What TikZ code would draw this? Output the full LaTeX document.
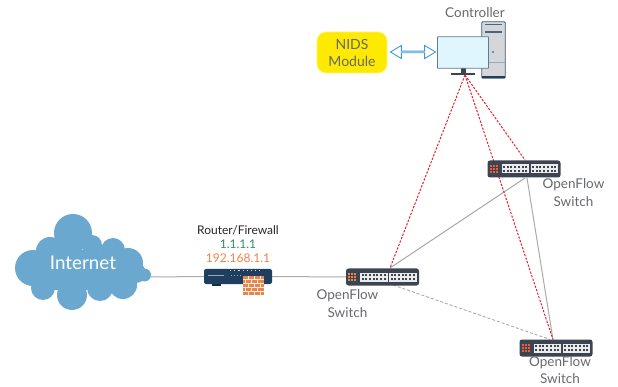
\documentclass[tikz,border=0pt]{standalone}
\usepackage{fontspec}
\setmainfont{Lato}
\usetikzlibrary{shapes.arrows}
\pgfdeclarelayer{back}
\pgfsetlayers{back,main}
\definecolor{cloudblue}{HTML}{6BA8CF}
\definecolor{swdark}{HTML}{3C4452}
\definecolor{navy}{HTML}{1F3F5E}
\definecolor{brick}{HTML}{E8864C}
\definecolor{txtgray}{HTML}{66696D}
\definecolor{linegray}{HTML}{ABABAB}
\definecolor{labgreen}{HTML}{2F8F6B}
\definecolor{arrowblue}{HTML}{3E9BD8}
\definecolor{ctrlred}{HTML}{E2202F}
\tikzset{
  x=1pt,y=-1pt,
  lab/.style={inner sep=0pt,text=txtgray,font=\fontsize{13.5}{13.5}\selectfont,align=center},
  labdark/.style={inner sep=0pt,font=\fontsize{12}{12}\selectfont},
  link/.style={linegray,line width=1pt},
  dashlink/.style={linegray,line width=0.9pt,dash pattern=on 3pt off 2pt},
  ctrl/.style={ctrlred,line width=1pt,dash pattern=on 2.2pt off 1.5pt},
  swbody/.style={fill=swdark,rounded corners=2.5pt,minimum width=73pt,minimum height=17pt,inner sep=0pt},
  pics/ethsw/.style={code={
    \node[swbody] (-body) at (0,0) {};
    \foreach \bx in {-22.5,6.5}{
      \fill[white!92!black] (\bx,-4.5) rectangle (\bx+27.5,4.5);
      \foreach \c in {0,...,6}{
        \fill[swdark] (\bx+1.5+\c*3.7,-3) rectangle ++(2,2);
        \fill[swdark] (\bx+1.5+\c*3.7,1) rectangle ++(2,2);
      }
    }
    \foreach \c in {0,1,2}\foreach \r in {0,1,2}{
      \fill[#1] (-34.5+\c*3,-4+\r*3) rectangle ++(2,2);
    }
  }},
}
\begin{document}
\begin{tikzpicture}
\useasboundingbox (0,0) rectangle (618,387);

% cloud
\fill[cloudblue]
  (73,233) circle (19) (50,251) circle (14) (33,268) circle (18)
  (43,288) circle (12) (72,295) circle (15) (100,288) circle (13)
  (123,285) circle (14) (128,263) circle (15) (144.5,275) circle (6.5)
  (113,250) circle (12) (92,245) circle (10) (136,273) circle (10);
\fill[cloudblue] (40,250) rectangle (135,290);
\node[inner sep=0pt,text=white,font=\fontsize{18.8}{18.8}\selectfont] (inet) at (83,263) {Internet};
\coordinate (cloudR) at (151,277);

% devices
\node[inner sep=0pt,minimum width=68pt,minimum height=15pt,fill=navy,rounded corners=2pt] (router) at (238,276.5) {};
\pic (s1) at (382.5,277) {ethsw=brick};
\pic (s2) at (524,169) {ethsw=brick!70!red};
\pic (s3) at (556,348) {ethsw=brick!70!red};

% anchors of the links
\coordinate (s1top) at (390,268);
\coordinate (s1bot) at (393,285);
\coordinate (s2botL) at (525,178);
\coordinate (s2botR) at (527,178);
\coordinate (s2top) at (525,160);
\coordinate (s3top) at (553,339.5);
\coordinate (s3topL) at (550,339.5);
\coordinate (ctrlfoot) at (465,75);

% connectors behind devices
\begin{pgfonlayer}{back}
\fill[white] (0,0) rectangle (618,387);
\draw[link] (cloudR) -- (router.west);
\draw[link] (router.east) -- (s1-body.west);
\draw[link] (s1top) -- (s2botL);
\draw[link] (s2botR) -- (s3top);
\draw[dashlink] (s1bot) -- (s3topL);
\draw[ctrl] (ctrlfoot) -- (s1top);
\draw[ctrl] (ctrlfoot) -- (s2top);
\draw[ctrl] (ctrlfoot) -- (s3top);
\end{pgfonlayer}

% router details
\draw[white!80!navy,line width=1.6pt,dash pattern=on 1.2pt off 3pt] (230,270.5) -- (260,270.5);
\draw[white!55!navy,line width=0.7pt] (208,275.5) -- (224,275.5);
\draw[white!55!navy,line width=0.7pt,dash pattern=on 1pt off 2pt] (231,275.5) -- (242,275.5);
\fill[navy!70!black] (212,284) rectangle (221,285.5);

% firewall
\fill[brick] (243,276) rectangle (264,295);
\foreach \yy in {279.5,283.5,287.5,291.5}
  \draw[white!85!brick,line width=0.6pt] (243,\yy) -- (264,\yy);
\foreach \xx in {248,254,260}{
  \draw[white!85!brick,line width=0.6pt] (\xx,276) -- (\xx,279.5);
  \draw[white!85!brick,line width=0.6pt] (\xx,283.5) -- (\xx,287.5);
  \draw[white!85!brick,line width=0.6pt] (\xx,291.5) -- (\xx,295);
  \draw[white!85!brick,line width=0.6pt] (\xx-3,279.5) -- (\xx-3,283.5);
  \draw[white!85!brick,line width=0.6pt] (\xx-3,287.5) -- (\xx-3,291.5);
}

% router labels
\node[labdark,text=black!85] (rname) at (238,230.5) {Router/Firewall};
\node[labdark,text=labgreen] (rip1) at (238,244.5) {1.1.1.1};
\node[labdark,text=brick] (rip2) at (238,258) {192.168.1.1};

% switch labels
\node[lab] (l1) at (347.5,303.5) {OpenFlow\\[4pt]Switch};
\node[lab] (l2) at (573.5,192.5) {OpenFlow\\[4pt]Switch};
\node[lab] (l3) at (560,370.5) {OpenFlow\\[3.5pt]Switch};

% NIDS
\node[fill=yellow!92!orange,draw=yellow!60!white,line width=0.8pt,rounded corners=9pt,minimum width=70pt,minimum height=41pt,inner sep=0pt,text=txtgray,font=\fontsize{14}{14}\selectfont,align=center] (nids) at (352,52.5) {NIDS\\[3pt]Module};

% controller: tower
\node[fill=white!78!swdark,draw=navy!85!white,line width=0.9pt,rounded corners=1pt,minimum width=23.5pt,minimum height=56.5pt,inner sep=0pt] (tower) at (493.5,50) {};
\fill[navy!80!white] (485,24) rectangle (502,25.5);
\fill[navy!80!white] (485,31) rectangle (502,33.5);
\fill[arrowblue!70!navy] (493,52) circle (1.2);
\draw[navy!45!white,line width=0.6pt] (482,62) -- (505,62);
\fill[navy] (482,76.5) rectangle (505,78);
% controller: monitor
\fill[swdark] (461,68) rectangle (466,73);
\fill[swdark] (451,73) rectangle (475,74.6);
\node[fill=blue!30!cyan!12!white,draw=navy!70!white,line width=0.8pt,minimum width=51pt,minimum height=31.5pt,inner sep=0pt,rounded corners=0.5pt] (monitor) at (463,52.5) {};
\node[lab] (ctitle) at (475,13) {Controller};

% double arrow between the NIDS module and the controller
\node[double arrow,draw=arrowblue,fill=white,line width=0.9pt,minimum height=45pt,minimum width=13pt,double arrow head extend=3.2pt,double arrow tip angle=62,inner sep=0pt] (nidslink) at (413,52) {};
\end{tikzpicture}
\end{document}
